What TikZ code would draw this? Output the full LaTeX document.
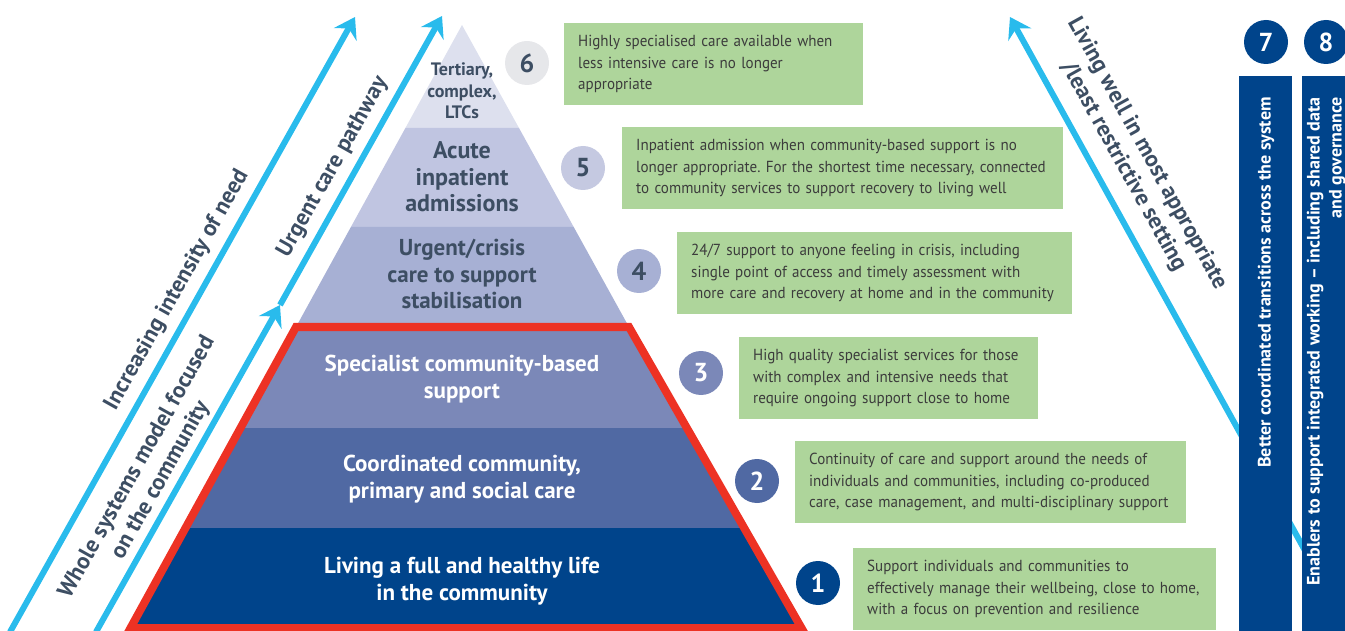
\documentclass[tikz,border=0pt]{standalone}
\usepackage{fontspec}
\setmainfont{PT Sans}
\newfontfamily\boxfont[FakeStretch=0.94]{PT Sans}
\newfontfamily\pyrfont{PT Sans}
\usetikzlibrary{arrows.meta}
\frenchspacing
\definecolor{cyanA}{RGB}{41,187,236}
\definecolor{navy}{RGB}{0,68,139}
\definecolor{Ltwo}{RGB}{80,105,163}
\definecolor{Lthree}{RGB}{123,136,184}
\definecolor{Lfour}{RGB}{167,176,212}
\definecolor{Lfive}{RGB}{192,197,225}
\definecolor{Lsix}{RGB}{221,224,238}
\definecolor{boxgreen}{RGB}{174,213,155}
\definecolor{redline}{RGB}{237,50,36}
\definecolor{slate}{RGB}{61,78,99}
\definecolor{boxtext}{RGB}{60,60,60}
\definecolor{greycirc}{RGB}{230,231,234}
\definecolor{circfive}{RGB}{197,201,225}
\tikzset{
  bluearrow/.style={draw=cyanA, line width=6pt, -{Stealth[length=20pt,width=26pt,inset=7pt]}},
  gbox/.style={fill=boxgreen, anchor=north west, minimum height=82pt, inner xsep=14pt, inner ysep=0pt, align=left, text=boxtext, font=\boxfont\fontsize{16}{21.5}\selectfont},
  pyr/.style={align=center, inner sep=0pt, font=\pyrfont\bfseries\fontsize{23}{26.5}\selectfont},
  num/.style={circle, minimum size=44pt, inner sep=0pt, font=\bfseries\fontsize{26}{26}\selectfont},
  arrtext/.style={align=center, inner sep=0pt, text=slate, font=\pyrfont\bfseries\fontsize{23}{27}\selectfont},
  coltext/.style={rotate=90, anchor=east, align=right, inner sep=0pt, text=white, font=\pyrfont\bfseries\fontsize{18}{22}\selectfont},
  colbox/.style={fill=navy, anchor=north west, minimum height=560pt, inner sep=0pt}
}
\begin{document}
\begin{tikzpicture}[x=1pt,y=-1pt]
\useasboundingbox (0,0) rectangle (1345,631);
% pyramid layers
\fill[Lsix] (462,25) -- (519,128) -- (405.4,128) -- cycle;
\fill[Lfive] (405.4,128) -- (519,128) -- (573.7,227) -- (350.9,227) -- cycle;
\fill[Lfour] (350.9,227) -- (573.7,227) -- (629,327) -- (296,327) -- cycle;
\fill[Lthree] (296,327) -- (629,327) -- (686.9,428) -- (240.5,428) -- cycle;
\fill[Ltwo] (240.5,428) -- (686.9,428) -- (744.2,528) -- (185.5,528) -- cycle;
\fill[navy] (185.5,528) -- (744.2,528) -- (801.5,628) -- (130.5,628) -- cycle;
\draw[redline, line width=8pt, line join=miter] (296,327) -- (629,327) -- (801.5,628) -- (130.5,628) -- cycle;
% pyramid labels
\node[pyr, text=slate, font=\pyrfont\bfseries\fontsize{18}{21.5}\selectfont] (l6) at (462,91) {Tertiary,\\complex,\\LTCs};
\node[pyr, text=slate, font=\pyrfont\bfseries\fontsize{24}{26.5}\selectfont] (l5) at (462,177) {Acute\\inpatient\\admissions};
\node[pyr, text=slate] (l4) at (462,274) {Urgent/crisis\\care to support\\stabilisation};
\node[pyr, text=white] (l3) at (462,379) {Specialist community-based\\support};
\node[pyr, text=white] (l2) at (462,479) {Coordinated community,\\primary and social care};
\node[pyr, text=white] (l1) at (462,581) {Living a full and healthy life\\in the community};
% numbered circles
\node[num, fill=greycirc, text=slate] (c6) at (527,63) {6};
\node[num, fill=circfive, text=slate] (c5) at (583,168) {5};
\node[num, fill=Lfour, text=slate] (c4) at (639,271) {4};
\node[num, fill=Lthree, text=white] (c3) at (701,373) {3};
\node[num, fill=Ltwo, text=white] (c2) at (757,481) {2};
\node[num, fill=navy, text=white] (c1) at (818,583) {1};
% green boxes
\node[gbox, text width=271pt] (b6) at (564,23) {Highly specialised care available when\\less intensive care is no longer\\appropriate};
\node[gbox, text width=413pt] (b5) at (622,127) {Inpatient admission when community-based support is no\\longer appropriate. For the shortest time necessary, connected\\to community services to support recovery to living well};
\node[gbox, text width=367pt] (b4) at (677,232) {24/7 support to anyone feeling in crisis, including\\single point of access and timely assessment with\\more care and recovery at home and in the community};
\node[gbox, text width=271pt] (b3) at (739,337) {High quality specialist services for those\\with complex and intensive needs that\\require ongoing support close to home};
\node[gbox, text width=363pt] (b2) at (795,441) {Continuity of care and support around the needs of\\individuals and communities, including co-produced\\care, case management, and multi-disciplinary support};
\node[gbox, text width=335pt] (b1) at (853,548) {Support individuals and communities to\\effectively manage their wellbeing, close to home,\\with a focus on prevention and resilience};
% left arrows
\coordinate (a0) at (10,632);
\coordinate (a1) at (355,17);
\coordinate (bb0) at (96,632);
\coordinate (bm) at (280,305);
\coordinate (bb1) at (442,16);
\draw[bluearrow] (a0) -- (a1);
\draw[bluearrow] (bb0) -- (bm);
\draw[bluearrow] (bm) -- (bb1);
\node[arrtext, rotate=60.7] (tA) at (177,290) {Increasing intensity of need};
\node[arrtext, rotate=60.7] (tB) at (333,167) {Urgent care pathway};
\node[arrtext, rotate=60.7] (tC) at (149,474) {Whole systems model focused\\on the community};
% right arrow
\coordinate (r0) at (1313,565);
\coordinate (r1) at (1010,17);
\draw[bluearrow] (r0) -- (r1);
\node[arrtext, rotate=-61] (tR) at (1135,160) {Living well in most appropriate\\/least restrictive setting};
% columns
\node[colbox, minimum width=53pt] (col7) at (1239,76) {};
\node[colbox, minimum width=46pt] (col8) at (1302,76) {};
\node[num, fill=navy, text=white] (c7) at (1266,42) {7};
\node[num, fill=navy, text=white] (c8) at (1326,42) {8};
\node[coltext] (t7) at (1266,97) {Better coordinated transitions across the system};
\node[coltext] (t8) at (1326,97) {Enablers to support integrated working – including shared data\\and governance};
\end{tikzpicture}
\end{document}
